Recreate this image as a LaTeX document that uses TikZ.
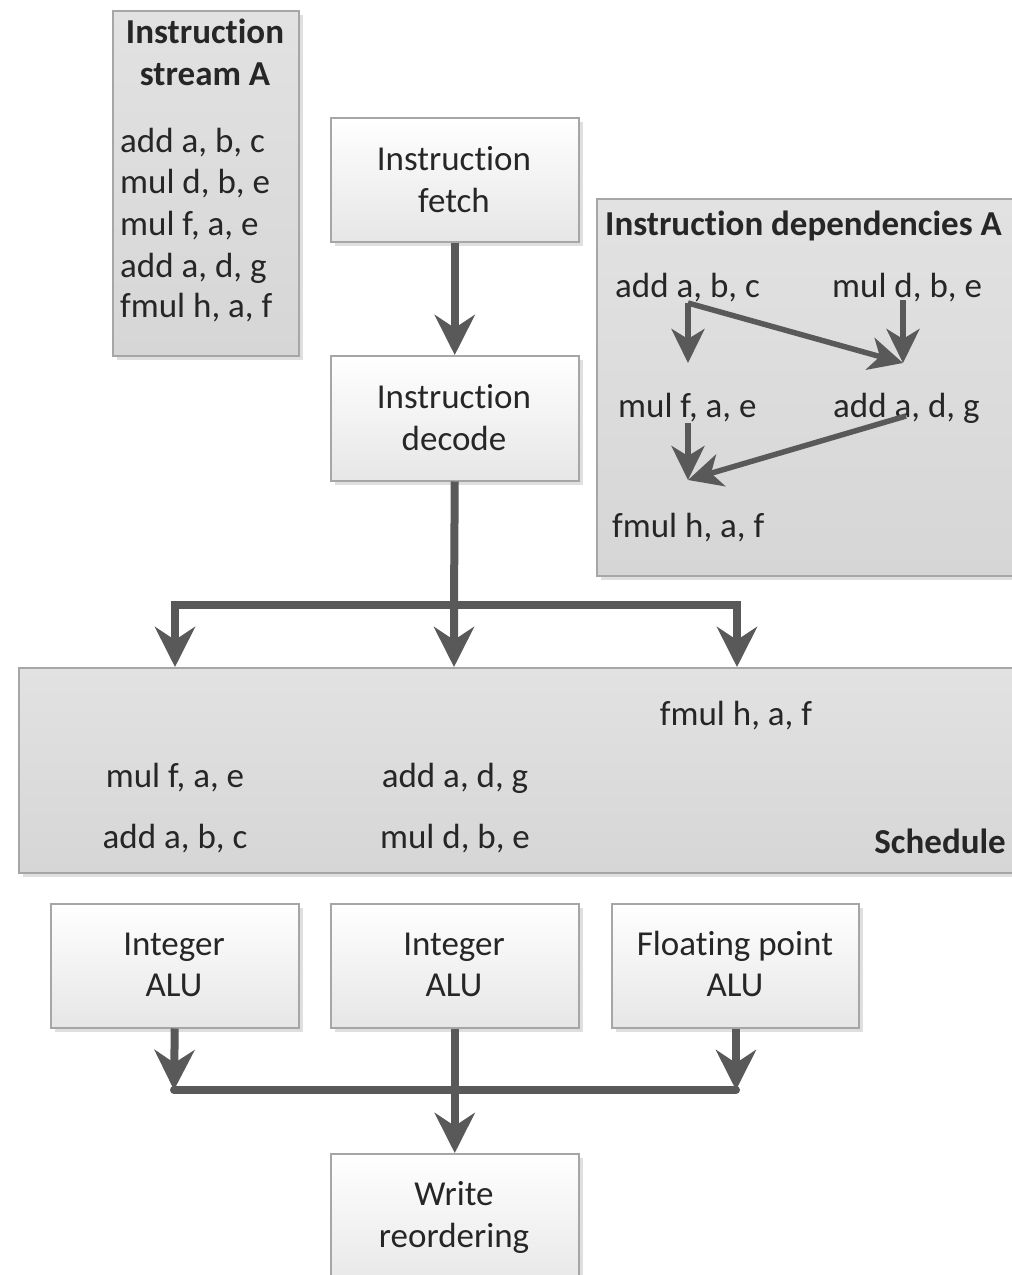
\documentclass[tikz,border=0pt]{standalone}
\usepackage{fontspec}
\setmainfont{Carlito}[Ligatures=NoCommon]
\usetikzlibrary{arrows.meta,shadows}
\definecolor{arr}{HTML}{595959}
\definecolor{bord}{HTML}{A6A6A6}
\definecolor{gtop}{HTML}{E2E2E2}
\definecolor{gbot}{HTML}{D6D6D6}
\definecolor{wbot}{HTML}{E6E6E6}
\definecolor{ink}{HTML}{262626}
\begin{document}
\begin{tikzpicture}[x=1pt,y=-1pt,
 txt/.style={font=\fontsize{35}{42}\selectfont, inner sep=0pt, text=ink},
 btxt/.style={font=\fontsize{35}{42}\selectfont\bfseries, inner sep=0pt, text=ink},
 shad/.style={drop shadow={shadow xshift=4pt, shadow yshift=-4pt, opacity=0.25, fill=gray}},
 wbox/.style={draw=bord, line width=1.5pt, top color=white, bottom color=wbot, shad, anchor=north west, inner sep=0pt},
 gbox/.style={draw=bord, line width=1.5pt, top color=gtop, bottom color=gbot, shad, anchor=north west, inner sep=0pt},
 flow/.style={draw=arr, line width=8pt, -{Stealth[length=40pt,width=40pt,inset=13pt]}},
 dep/.style={draw=arr, line width=5.5pt, -{Stealth[length=34pt,width=33pt,inset=10pt]}},
 barline/.style={draw=arr, line width=8pt, line cap=round}
]
\useasboundingbox (0,0) rectangle (1012,1275);
\clip (0,0) rectangle (1012,1275);
\fill[white] (0,0) rectangle (1012,1275);

% Instruction stream A
\node[gbox, minimum width=186pt, minimum height=345pt] (sa) at (112,10) {};
\node[btxt, anchor=base] (saT1) at (205,43) {Instruction};
\node[btxt, anchor=base] (saT2) at (205,85) {stream A};
\node[txt, anchor=base west] (sa1) at (120,152) {add a, b, c};
\node[txt, anchor=base west] (sa2) at (120,193) {mul d, b, e};
\node[txt, anchor=base west] (sa3) at (120,235) {mul f, a, e};
\node[txt, anchor=base west] (sa4) at (120,277) {add a, d, g};
\node[txt, anchor=base west] (sa5) at (120,317) {fmul h, a, f};

% Fetch and decode
\node[wbox, minimum width=248pt, minimum height=124pt] (fetch) at (330,117) {};
\node[txt, anchor=base] (fetchT1) at (454,170) {Instruction};
\node[txt, anchor=base] (fetchT2) at (454,212) {fetch};
\node[wbox, minimum width=248pt, minimum height=125pt] (decode) at (330,355) {};
\node[txt, anchor=base] (decodeT1) at (454,408) {Instruction};
\node[txt, anchor=base] (decodeT2) at (454,450) {decode};
\draw[flow] (fetch.south) -- (decode.north);

% Dependencies
\node[gbox, minimum width=420pt, minimum height=377pt] (deps) at (596,198) {};
\node[btxt, anchor=base west] (depsT) at (605,235) {Instruction dependencies A};
\node[txt, anchor=base west] (d1) at (615,297) {add a, b, c};
\node[txt, anchor=base west] (d2) at (832,297) {mul d, b, e};
\node[txt, anchor=base west] (d3) at (618,417) {mul f, a, e};
\node[txt, anchor=base west] (d4) at (833,417) {add a, d, g};
\node[txt, anchor=base west] (d5) at (612,537) {fmul h, a, f};
\coordinate (p1) at (688,303);
\coordinate (p1t) at (688,363);
\coordinate (p2) at (903,300);
\coordinate (p2t) at (903,363);
\coordinate (p3) at (688,423);
\coordinate (p3t) at (688,480);
\coordinate (p4) at (906,416);
\draw[dep] (p1) -- (p1t);
\draw[dep] (p1) -- (p2t);
\draw[dep] (p2) -- (p2t);
\draw[dep] (p3) -- (p3t);
\draw[dep] (p4) -- (p3t);

% Schedule
\node[gbox, minimum width=1000pt, minimum height=205pt] (sched) at (18,667) {};
\node[txt, anchor=base] (s1) at (736,725) {fmul h, a, f};
\node[txt, anchor=base] (s2) at (175,787) {mul f, a, e};
\node[txt, anchor=base] (s3) at (455,787) {add a, d, g};
\node[txt, anchor=base] (s4) at (175,848) {add a, b, c};
\node[txt, anchor=base] (s5) at (455,848) {mul d, b, e};
\node[btxt, anchor=base east] (schedT) at (1006,853) {Schedule};

\coordinate (bl) at (175,605);
\coordinate (bm) at (454,605);
\coordinate (br) at (737,605);
\draw[flow] (decode.south) -- (bm) -- (bm |- sched.north);
\draw[flow] (br) -- (bl) -- (bl |- sched.north);
\draw[flow] (bl) -- (br) -- (br |- sched.north);

% ALUs
\node[wbox, minimum width=248pt, minimum height=124pt] (alu1) at (50,903) {};
\node[txt, anchor=base] (alu1T1) at (174,955) {Integer};
\node[txt, anchor=base] (alu1T2) at (174,996) {ALU};
\node[wbox, minimum width=248pt, minimum height=124pt] (alu2) at (330,903) {};
\node[txt, anchor=base] (alu2T1) at (454,955) {Integer};
\node[txt, anchor=base] (alu2T2) at (454,996) {ALU};
\node[wbox, minimum width=247pt, minimum height=124pt] (alu3) at (611,903) {};
\node[txt, anchor=base] (alu3T1) at (735,955) {Floating point};
\node[txt, anchor=base] (alu3T2) at (735,996) {ALU};

% Write reordering
\node[wbox, minimum width=248pt, minimum height=140pt] (write) at (330,1153) {};
\node[txt, anchor=base] (writeT1) at (454,1205) {Write};
\node[txt, anchor=base] (writeT2) at (454,1247) {reordering};

\coordinate (cl) at (174,1090);
\coordinate (cr) at (736,1090);
\draw[barline] (cl) -- (cr);
\draw[flow] (alu1.south) -- (cl);
\draw[flow] (alu3.south -| cr) -- (cr);
\draw[flow] (alu2.south) -- (write.north);
\end{tikzpicture}
\end{document}
